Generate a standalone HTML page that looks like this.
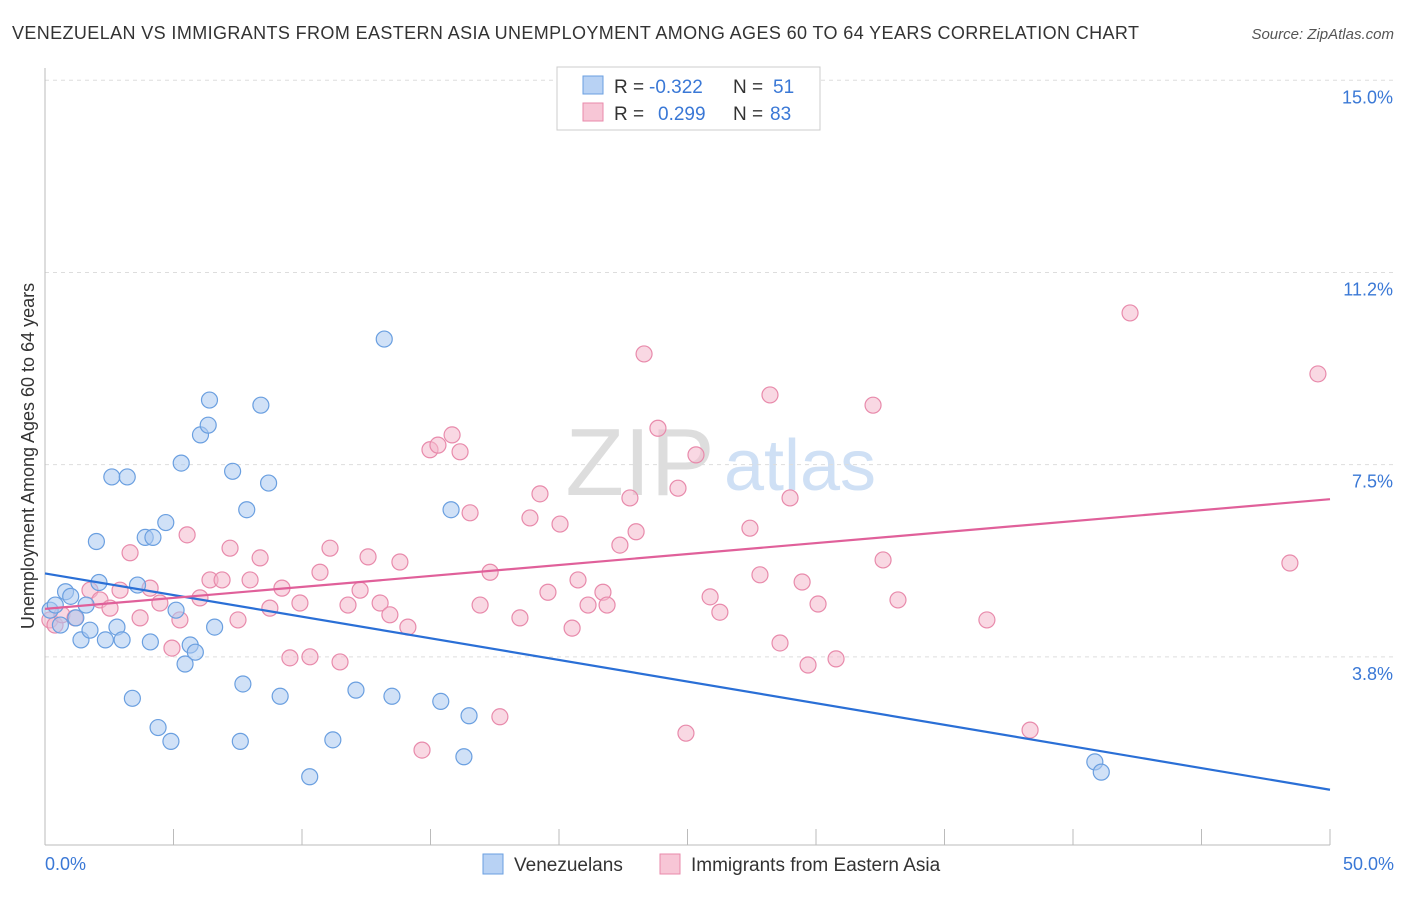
<!DOCTYPE html>
<html><head><meta charset="utf-8"><style>
body{margin:0;background:#fff;font-family:"Liberation Sans",sans-serif;}
svg text{font-family:"Liberation Sans",sans-serif;}
</style></head><body>
<svg id="chart" width="1406" height="892">
<text x="12" y="39" font-size="18" fill="#333" textLength="1127">VENEZUELAN VS IMMIGRANTS FROM EASTERN ASIA UNEMPLOYMENT AMONG AGES 60 TO 64 YEARS CORRELATION CHART</text>
<text x="1394" y="39" font-size="15" fill="#555" text-anchor="end" font-style="italic">Source: ZipAtlas.com</text>
<text x="640" y="495" font-size="96" fill="#ddd" font-family="Liberation Serif" text-anchor="middle">ZIP</text>
<text x="800" y="490" font-size="72" fill="#cfe0f5" text-anchor="middle">atlas</text>
<g id="grid"></g><g id="axes"></g><g id="pts"></g><g id="lines"></g>
<text transform="translate(34,456) rotate(-90)" font-size="18" fill="#333" text-anchor="middle">Unemployment Among Ages 60 to 64 years</text>
<text x="45" y="870" font-size="18" fill="#3a78d6">0.0%</text>
<text x="1394" y="870" font-size="18" fill="#3a78d6" text-anchor="end">50.0%</text>
<g>
<rect x="557" y="67" width="263" height="63" fill="#fff" stroke="#ccc"/>
<rect x="583" y="76" width="20" height="18" fill="#b8d2f4" stroke="#6a9fe0"/>
<rect x="583" y="103" width="20" height="18" fill="#f7c6d6" stroke="#e88aab"/>
<text x="614" y="93" font-size="19" fill="#333">R =</text>
<text x="649" y="93" font-size="19" fill="#3a78d6">-0.322</text>
<text x="733" y="93" font-size="19" fill="#333">N =</text>
<text x="773" y="93" font-size="19" fill="#3a78d6">51</text>
<text x="614" y="120" font-size="19" fill="#333">R =</text>
<text x="658" y="120" font-size="19" fill="#3a78d6">0.299</text>
<text x="733" y="120" font-size="19" fill="#333">N =</text>
<text x="770" y="120" font-size="19" fill="#3a78d6">83</text>
</g>
<g>
<rect x="483" y="854" width="20" height="20" fill="#b8d2f4" stroke="#6a9fe0"/>
<text x="514" y="871" font-size="19" fill="#333">Venezuelans</text>
<rect x="660" y="854" width="20" height="20" fill="#f7c6d6" stroke="#e88aab"/>
<text x="691" y="871" font-size="19" fill="#333">Immigrants from Eastern Asia</text>
</g>
</svg>
<script>
const yTicks=[3.75,7.5,11.25,15];
const yTickLabels=["3.8%","7.5%","11.2%","15.0%"];
const xTicks=[0,5,10,15,20,25,30,35,40,45,50];
const blueX=[0.2,0.4,0.6,0.8,1,1.2,1.4,1.6,1.75,2,2.1,2.35,2.6,2.8,3,3.2,3.4,3.6,3.9,4.1,4.2,4.4,4.7,4.9,5.1,5.3,5.45,5.65,5.85,6.05,6.35,6.4,6.6,7.3,7.6,7.7,7.85,8.4,8.7,9.15,10.3,11.2,12.1,13.2,13.5,15.4,15.8,16.3,16.5,40.85,41.1];
const blueY=[4.66,4.76,4.37,5.02,4.93,4.51,4.08,4.76,4.27,6.0,5.2,4.08,7.26,4.33,4.08,7.26,2.94,5.15,6.08,4.04,6.08,2.37,6.37,2.1,4.66,7.53,3.61,3.98,3.84,8.08,8.27,8.76,4.33,7.37,2.1,3.22,6.62,8.66,7.14,2.98,1.41,2.13,3.1,9.95,2.98,2.88,6.62,1.8,2.6,1.7,1.5];
const pinkX=[0.19,0.39,0.66,1.17,1.75,2.14,2.53,2.92,3.31,3.70,4.09,4.47,4.94,5.25,5.53,6.03,6.42,6.89,7.20,7.51,7.98,8.37,8.75,9.22,9.53,9.92,10.31,10.70,11.09,11.48,11.79,12.26,12.57,13.04,13.42,13.81,14.12,14.67,14.98,15.29,15.84,16.15,16.54,16.93,17.32,17.70,18.48,18.87,19.26,19.57,20.04,20.51,20.74,21.13,21.71,21.87,22.37,22.76,23.00,23.31,23.85,24.63,24.94,25.33,25.88,26.26,27.43,27.82,28.21,28.60,28.99,29.46,29.69,30.08,30.78,32.22,32.61,33.19,36.65,38.33,42.22,48.44,49.53];
const pinkY=[4.47,4.37,4.57,4.51,5.05,4.86,4.70,5.05,5.78,4.51,5.09,4.80,3.92,4.47,6.13,4.90,5.25,5.25,5.87,4.47,5.25,5.68,4.70,5.09,3.73,4.80,3.75,5.40,5.87,3.65,4.76,5.05,5.70,4.80,4.57,5.60,4.33,1.93,7.79,7.88,8.08,7.75,6.56,4.76,5.40,2.58,4.51,6.46,6.93,5.01,6.34,4.31,5.25,4.76,5.01,4.76,5.93,6.85,6.19,9.66,8.21,7.04,2.26,7.69,4.92,4.62,6.26,5.35,8.86,4.02,6.85,5.21,3.59,4.78,3.71,8.66,5.64,4.86,4.47,2.32,10.46,5.58,9.27];
</script>
<script>
const NS="http://www.w3.org/2000/svg";
const xs=v=>45+v*25.7, ys=v=>849-v*51.25;
function mk(t,a,p){const e=document.createElementNS(NS,t);for(const k in a)e.setAttribute(k,a[k]);p.appendChild(e);return e;}
const grid=document.getElementById('grid'),axes=document.getElementById('axes'),pts=document.getElementById('pts'),lines=document.getElementById('lines');
yTicks.forEach((t,i)=>{
 const l=mk('line',{x1:45,x2:1395,y1:ys(t),y2:ys(t),stroke:'#ddd','stroke-dasharray':'4,4'},grid);
 
 
 const tx=mk('text',{x:1393,y:ys(t)+23,'font-size':18,fill:'#3a78d6','text-anchor':'end'},grid);
 tx.textContent=yTickLabels[i];
 
 
});
const ya=mk('line',{x1:45,x2:45,y1:68,y2:845,stroke:'#bbb'},axes);


const xa=mk('line',{x1:45,x2:1330,y1:845,y2:845,stroke:'#bbb'},axes);


xTicks.forEach(t=>{
 const l=mk('line',{x1:xs(t),x2:xs(t),y1:829,y2:845,stroke:'#bbb'},axes);
 
 
});
function series(X,Y,fill,stroke,name){
 X.forEach((x,i)=>{
  const c=mk('circle',{cx:xs(x),cy:ys(Y[i]),r:8,fill:fill,'fill-opacity':0.55,stroke:stroke,'stroke-width':1.2},pts);
  
  
 });
}
series(pinkX,pinkY,'#f4b8cc','#e88aab','point-eastern-asia');
series(blueX,blueY,'#a9c8f0','#6a9fe0','point-venezuelans');
function fit(X,Y){const n=Math.min(X.length,Y.length);let mx=0,my=0;for(let i=0;i<n;i++){mx+=X[i];my+=Y[i]}mx/=n;my/=n;let sxy=0,sxx=0;for(let i=0;i<n;i++){sxy+=(X[i]-mx)*(Y[i]-my);sxx+=(X[i]-mx)**2}const b=sxy/sxx;return [my-b*mx,b];}
function trend(X,Y,col,name){const [a,b]=fit(X,Y);
 const l=mk('line',{x1:xs(0),y1:ys(a),x2:xs(50),y2:ys(a+b*50),stroke:col,'stroke-width':2.2},lines);
 
 }
trend(blueX,blueY,'#2a6fd6','trend-venezuelans');
trend(pinkX,pinkY,'#e0609a','trend-eastern-asia');
</script>
</body></html>
